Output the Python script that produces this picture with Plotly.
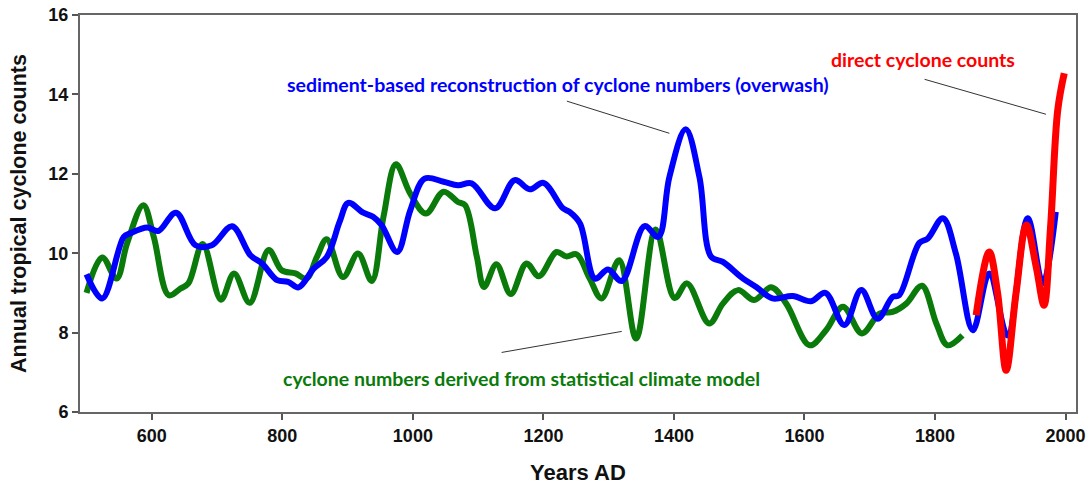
import plotly.graph_objects as go

# Sediment-based reconstruction (blue)
blue_years = [500, 524, 557, 567, 593, 610, 637, 667, 692, 723, 751, 769, 792, 809, 825, 848, 868, 888,
              901, 924, 939, 952, 976, 996, 1018, 1047, 1069, 1090, 1126, 1156, 1179, 1200, 1230, 1240,
              1256, 1279, 1299, 1320, 1355, 1376, 1393, 1418, 1439, 1457, 1475, 1506, 1526, 1551, 1582,
              1610, 1632, 1661, 1687, 1712, 1735, 1745, 1776, 1789, 1812, 1832, 1858, 1883, 1911, 1942,
              1965, 1985]
blue_vals = [9.47, 8.86, 10.41, 10.5, 10.65, 10.56, 11.02, 10.2, 10.2, 10.68, 9.95, 9.74, 9.32, 9.28, 9.14,
             9.61, 9.9, 10.8,
             11.27, 11.02, 10.92, 10.71, 10.03, 11.08, 11.88, 11.8, 11.71, 11.76, 11.13, 11.84, 11.61, 11.77,
             11.13, 11.04,
             10.75, 9.36, 9.59, 9.30, 10.68, 10.41, 11.92, 13.12, 11.92, 9.91, 9.78, 9.36, 9.15, 8.86, 8.92,
             8.79, 9.0, 8.19, 9.07, 8.35, 8.9, 8.94, 10.26, 10.37, 10.88, 9.99, 8.06, 9.49, 7.93, 10.88,
             9.24, 11.04]

# Statistical climate model (green)
green_years = [500, 524, 546, 562, 587, 603, 626, 644, 656, 678, 706, 726, 750, 779, 799, 820, 837, 853,
               868, 893, 916, 937, 955, 974, 996, 1020, 1047, 1069, 1080, 1098, 1109, 1128, 1150, 1174,
               1193, 1220, 1235, 1251, 1271, 1289, 1316, 1342, 1372, 1401, 1420, 1454, 1475, 1498, 1523,
               1549, 1572, 1608, 1633, 1659, 1688, 1715, 1735, 1756, 1780, 1802, 1819, 1842]
green_vals = [9.0, 9.89, 9.36, 10.24, 11.21, 10.41, 8.94, 9.11, 9.24, 10.23, 8.83, 9.49, 8.75, 10.08, 9.57,
              9.49, 9.36, 9.91, 10.35, 9.4, 9.99, 9.3, 10.92, 12.24, 11.5, 11.0, 11.55, 11.29, 11.21, 9.91,
              9.15, 9.72, 8.97, 9.74, 9.42, 10.03, 9.92, 9.97, 9.36, 8.86, 9.82, 7.85, 10.6, 8.87, 9.24,
              8.23, 8.73, 9.07, 8.82, 9.14, 8.73, 7.68, 8.06, 8.65, 7.98, 8.48, 8.52, 8.73, 9.18, 8.23,
              7.68, 7.93]

# Direct cyclone counts (red)
red_years = [1863, 1883, 1896, 1909, 1924, 1940, 1955, 1967, 1977, 1988, 1998]
red_vals = [8.44, 10.03, 8.98, 7.05, 8.98, 10.71, 9.66, 8.69, 10.66, 13.6, 14.53]

x_ticks = [600, 800, 1000, 1200, 1400, 1600, 1800, 2000]
y_ticks = [6, 8, 10, 12, 14, 16]

fig = go.Figure()
fig.add_trace(go.Scatter(x=green_years, y=green_vals, mode="lines",
                         line=dict(color="#0a7a0a", width=6, shape="spline", smoothing=1.0),
                         name="model", showlegend=False))
fig.add_trace(go.Scatter(x=blue_years, y=blue_vals, mode="lines",
                         line=dict(color="#0000ff", width=6, shape="spline", smoothing=1.0),
                         name="sediment", showlegend=False))
fig.add_trace(go.Scatter(x=red_years, y=red_vals, mode="lines",
                         line=dict(color="#ff0000", width=7, shape="spline", smoothing=1.0),
                         name="direct", showlegend=False))

label_font = "Lato, 'Open Sans', sans-serif"
fig.add_annotation(x=1222, y=14.24, xref="x", yref="y", showarrow=False,
                   text="<b>sediment-based reconstruction of cyclone numbers (overwash)</b>",
                   font=dict(family=label_font, size=19.5, color="#0000ff"))
fig.add_annotation(x=1166, y=6.85, xref="x", yref="y", showarrow=False,
                   text="<b>cyclone numbers derived from statistical climate model</b>",
                   font=dict(family=label_font, size=19.5, color="#0a7a0a"))
fig.add_annotation(x=1782, y=14.87, xref="x", yref="y", showarrow=False,
                   text="<b>direct cyclone counts</b>",
                   font=dict(family=label_font, size=19.5, color="#ff0000"))

for (x0, y0, x1, y1) in [(1236, 13.83, 1393, 13.02), (1136, 7.5, 1320, 8.03), (1784, 14.38, 1970, 13.5)]:
    fig.add_shape(type="line", x0=x0, y0=y0, x1=x1, y1=y1, xref="x", yref="y",
                  line=dict(color="#333333", width=1))

axis_font = dict(family="Liberation Sans, Arial, sans-serif", size=18, color="#111111")
fig.update_xaxes(range=[490, 2016], tickvals=x_ticks, ticktext=[f"<b>{v}</b>" for v in x_ticks],
                 ticks="outside", ticklen=6, tickwidth=1.5, tickcolor="#555555",
                 showline=True, linecolor="#666666", linewidth=2, mirror=True,
                 showgrid=False, zeroline=False, tickfont=axis_font, automargin=False,
                 title=dict(text="<b>Years AD</b>", standoff=25,
                            font=dict(family="Liberation Sans, Arial, sans-serif", size=22, color="#111111")))
fig.update_yaxes(range=[6, 16], tickvals=y_ticks, ticktext=[f"<b>{v}</b>" for v in y_ticks],
                 ticks="outside", ticklen=6, tickwidth=1.5, tickcolor="#555555",
                 showline=True, linecolor="#666666", linewidth=2, mirror=True,
                 showgrid=False, zeroline=False, tickfont=axis_font, automargin=False,
                 title=dict(text="<b>Annual tropical cyclone counts</b>", standoff=16,
                            font=dict(family="Liberation Sans, Arial, sans-serif", size=21.5, color="#111111")))

fig.update_layout(width=1092, height=485, margin=dict(l=80, r=16, t=15, b=73),
                  paper_bgcolor="white", plot_bgcolor="white", showlegend=False)

fig.write_html("out.html", config={"displayModeBar": False},
               post_script="document.body.style.margin='0';document.body.style.overflow='hidden';")
